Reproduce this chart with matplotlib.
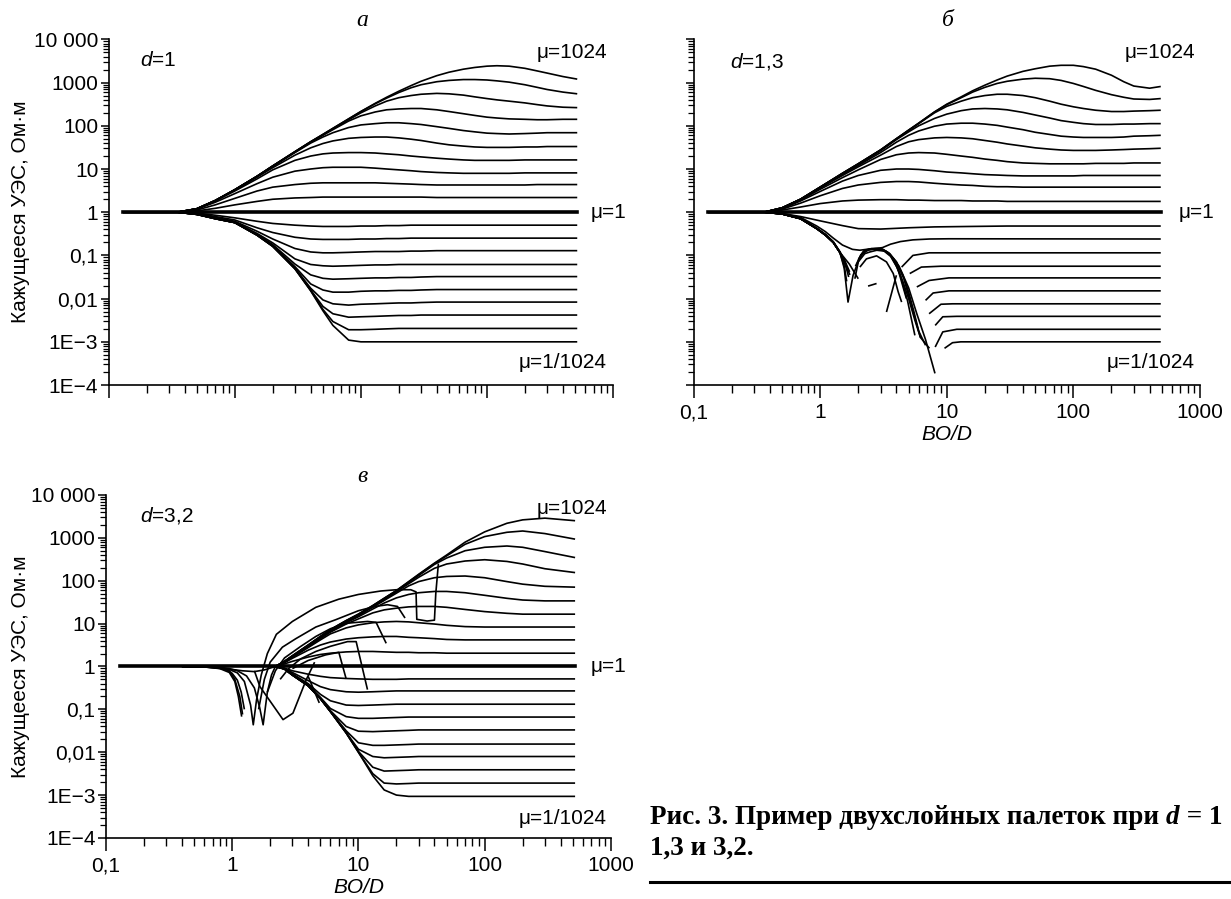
import numpy as np
import matplotlib
matplotlib.use('Agg')
import matplotlib.pyplot as plt
from matplotlib import rcParams
from matplotlib.ticker import FixedLocator, FixedFormatter, LogLocator, NullFormatter

rcParams['font.family'] = 'Liberation Sans'
rcParams['mathtext.fontset'] = 'custom'
rcParams['mathtext.rm'] = 'Liberation Sans'
rcParams['mathtext.it'] = 'Liberation Sans:italic'

nan = np.nan

# ---- data: apparent resistivity curves, values given as lg(rho) ----
x_ticks = [0.1, 1, 10, 100, 1000]
x_tick_labels = ['0,1', '1', '10', '100', '1000']
y_ticks = [1e-4, 1e-3, 1e-2, 1e-1, 1, 10, 100, 1000, 10000]
y_tick_labels = ['1E\u22124', '1E\u22123', '0,01', '0,1', '1', '10', '100', '1000', '10 000']

# panel a, d = 1
a_x = [0.13, 0.35, 0.5, 0.7, 1, 1.5, 2, 3, 4, 5, 6, 8, 10, 13, 16, 20, 25, 30, 40, 50,
       65, 80, 100, 120, 150, 200, 250, 300, 400, 520]
a_up = [  # mu = 2 ... 1024
    [0, 0, 0.03, 0.09, 0.17, 0.25, 0.30, 0.33, 0.34, 0.35, 0.35, 0.35, 0.35, 0.35, 0.35, 0.35, 0.35, 0.35, 0.34, 0.34,
     0.34, 0.34, 0.34, 0.34, 0.34, 0.34, 0.34, 0.34, 0.34, 0.34],
    [0, 0, 0.05, 0.17, 0.32, 0.49, 0.58, 0.64, 0.67, 0.68, 0.68, 0.68, 0.68, 0.68, 0.67, 0.66, 0.65, 0.64, 0.63, 0.63,
     0.63, 0.63, 0.63, 0.63, 0.63, 0.63, 0.64, 0.64, 0.64, 0.64],
    [0, 0, 0.07, 0.23, 0.43, 0.66, 0.81, 0.95, 1.00, 1.03, 1.04, 1.04, 1.04, 1.02, 1.00, 0.98, 0.96, 0.94, 0.92, 0.91,
     0.90, 0.90, 0.90, 0.90, 0.90, 0.91, 0.91, 0.91, 0.91, 0.91],
    [0, 0, 0.08, 0.26, 0.49, 0.77, 0.98, 1.20, 1.30, 1.35, 1.37, 1.38, 1.38, 1.37, 1.35, 1.33, 1.30, 1.28, 1.25, 1.23,
     1.21, 1.20, 1.20, 1.20, 1.20, 1.21, 1.21, 1.21, 1.21, 1.21],
    [0, 0, 0.08, 0.27, 0.51, 0.81, 1.03, 1.32, 1.49, 1.59, 1.65, 1.71, 1.73, 1.74, 1.74, 1.72, 1.69, 1.66, 1.60, 1.56,
     1.53, 1.51, 1.50, 1.50, 1.50, 1.51, 1.51, 1.52, 1.52, 1.52],
    [0, 0, 0.08, 0.27, 0.52, 0.83, 1.06, 1.38, 1.60, 1.74, 1.84, 1.96, 2.02, 2.05, 2.07, 2.07, 2.05, 2.03, 1.98, 1.94,
     1.89, 1.86, 1.83, 1.82, 1.81, 1.82, 1.83, 1.84, 1.84, 1.84],
    [0, 0, 0.08, 0.27, 0.52, 0.83, 1.07, 1.39, 1.62, 1.78, 1.91, 2.11, 2.23, 2.32, 2.37, 2.39, 2.40, 2.40, 2.37, 2.33,
     2.28, 2.24, 2.20, 2.18, 2.16, 2.15, 2.14, 2.14, 2.15, 2.15],
    [0, 0, 0.08, 0.27, 0.52, 0.83, 1.07, 1.40, 1.63, 1.79, 1.93, 2.14, 2.30, 2.46, 2.57, 2.65, 2.70, 2.73, 2.75, 2.74,
     2.71, 2.67, 2.63, 2.60, 2.57, 2.53, 2.49, 2.46, 2.43, 2.42],
    [0, 0, 0.08, 0.27, 0.52, 0.83, 1.07, 1.40, 1.63, 1.80, 1.94, 2.16, 2.33, 2.51, 2.64, 2.77, 2.88, 2.95, 3.02, 3.05,
     3.07, 3.07, 3.06, 3.04, 3.01, 2.95, 2.89, 2.84, 2.78, 2.74],
    [0, 0, 0.08, 0.27, 0.52, 0.83, 1.07, 1.40, 1.63, 1.80, 1.94, 2.16, 2.33, 2.52, 2.66, 2.80, 2.93, 3.03, 3.16, 3.24,
     3.31, 3.35, 3.38, 3.39, 3.38, 3.33, 3.27, 3.22, 3.14, 3.08],
]
a_low = [  # mu = 1/2 ... 1/1024
    [0, 0, -0.02, -0.07, -0.13, -0.21, -0.26, -0.30, -0.32, -0.33, -0.33, -0.33, -0.32, -0.32, -0.31, -0.31, -0.30, -0.30,
     -0.30, -0.30, -0.30, -0.30, -0.30, -0.30, -0.30, -0.30, -0.30, -0.30, -0.30, -0.30],
    [0, 0, -0.03, -0.10, -0.18, -0.36, -0.47, -0.58, -0.62, -0.63, -0.63, -0.63, -0.62, -0.62, -0.61, -0.61, -0.60, -0.60,
     -0.60, -0.60, -0.60, -0.60, -0.60, -0.60, -0.60, -0.60, -0.60, -0.60, -0.60, -0.60],
    [0, 0, -0.04, -0.12, -0.21, -0.44, -0.62, -0.84, -0.92, -0.94, -0.94, -0.93, -0.92, -0.91, -0.91, -0.91, -0.90, -0.90,
     -0.89, -0.89, -0.89, -0.89, -0.89, -0.89, -0.89, -0.89, -0.89, -0.89, -0.89, -0.89],
    [0, 0, -0.05, -0.13, -0.23, -0.49, -0.71, -1.08, -1.21, -1.24, -1.25, -1.24, -1.23, -1.22, -1.22, -1.21, -1.21, -1.21,
     -1.21, -1.21, -1.21, -1.21, -1.21, -1.21, -1.21, -1.21, -1.21, -1.21, -1.21, -1.21],
    [0, 0, -0.05, -0.14, -0.24, -0.51, -0.75, -1.20, -1.45, -1.53, -1.55, -1.54, -1.53, -1.52, -1.52, -1.51, -1.51, -1.50,
     -1.49, -1.49, -1.49, -1.49, -1.49, -1.49, -1.49, -1.49, -1.49, -1.49, -1.49, -1.49],
    [0, 0, -0.05, -0.15, -0.24, -0.52, -0.77, -1.26, -1.66, -1.80, -1.85, -1.85, -1.83, -1.82, -1.82, -1.81, -1.81, -1.80,
     -1.79, -1.79, -1.79, -1.79, -1.79, -1.79, -1.79, -1.79, -1.79, -1.79, -1.79, -1.79],
    [0, 0, -0.05, -0.15, -0.24, -0.53, -0.78, -1.29, -1.76, -2.03, -2.12, -2.15, -2.13, -2.12, -2.11, -2.10, -2.10, -2.09,
     -2.08, -2.08, -2.08, -2.08, -2.08, -2.08, -2.08, -2.08, -2.08, -2.08, -2.08, -2.08],
    [0, 0, -0.05, -0.15, -0.24, -0.53, -0.79, -1.30, -1.80, -2.18, -2.35, -2.43, -2.42, -2.41, -2.40, -2.39, -2.39, -2.38,
     -2.38, -2.38, -2.38, -2.38, -2.38, -2.38, -2.38, -2.38, -2.38, -2.38, -2.38, -2.38],
    [0, 0, -0.05, -0.15, -0.24, -0.53, -0.79, -1.31, -1.81, -2.25, -2.53, -2.72, -2.72, -2.71, -2.70, -2.69, -2.69, -2.69,
     -2.69, -2.69, -2.69, -2.69, -2.69, -2.69, -2.69, -2.69, -2.69, -2.69, -2.69, -2.69],
    [0, 0, -0.05, -0.15, -0.24, -0.53, -0.79, -1.31, -1.82, -2.28, -2.62, -2.96, -3.00, -3.00, -3.00, -3.00, -3.00, -3.00,
     -3.00, -3.00, -3.00, -3.00, -3.00, -3.00, -3.00, -3.00, -3.00, -3.00, -3.00, -3.00],
]

# panel b, d = 1,3
b_x = [0.13, 0.36, 0.5, 0.7, 1, 1.5, 2, 3, 4, 5, 6, 8, 10, 13, 16, 20, 25, 30, 40, 50,
       65, 80, 100, 120, 150, 200, 250, 300, 400, 490]
b_up = [
    [0, 0, 0.05, 0.12, 0.20, 0.26, 0.28, 0.29, 0.29, 0.28, 0.28, 0.27, 0.27, 0.27, 0.26, 0.26, 0.26, 0.25, 0.25, 0.25,
     0.25, 0.25, 0.25, 0.25, 0.25, 0.25, 0.25, 0.25, 0.25, 0.25],
    [0, 0, 0.07, 0.21, 0.38, 0.55, 0.63, 0.69, 0.71, 0.71, 0.70, 0.67, 0.65, 0.63, 0.62, 0.60, 0.59, 0.59, 0.58, 0.58,
     0.58, 0.58, 0.58, 0.58, 0.58, 0.58, 0.58, 0.58, 0.58, 0.58],
    [0, 0, 0.08, 0.26, 0.48, 0.72, 0.85, 0.97, 1.00, 1.00, 0.99, 0.96, 0.93, 0.91, 0.89, 0.87, 0.86, 0.85, 0.84, 0.84,
     0.84, 0.84, 0.84, 0.85, 0.85, 0.85, 0.85, 0.85, 0.85, 0.85],
    [0, 0, 0.09, 0.28, 0.53, 0.80, 0.98, 1.22, 1.33, 1.37, 1.38, 1.37, 1.34, 1.30, 1.27, 1.23, 1.20, 1.17, 1.14, 1.13,
     1.12, 1.12, 1.12, 1.12, 1.13, 1.13, 1.13, 1.14, 1.14, 1.14],
    [0, 0, 0.10, 0.29, 0.56, 0.85, 1.05, 1.32, 1.52, 1.63, 1.68, 1.72, 1.73, 1.72, 1.70, 1.66, 1.62, 1.58, 1.53, 1.49,
     1.46, 1.44, 1.43, 1.43, 1.43, 1.44, 1.45, 1.46, 1.47, 1.48],
    [0, 0, 0.10, 0.30, 0.57, 0.88, 1.08, 1.38, 1.62, 1.78, 1.88, 1.99, 2.04, 2.06, 2.06, 2.04, 2.01, 1.97, 1.91, 1.85,
     1.80, 1.76, 1.74, 1.73, 1.73, 1.73, 1.74, 1.76, 1.77, 1.78],
    [0, 0, 0.10, 0.30, 0.58, 0.89, 1.10, 1.42, 1.68, 1.86, 2.00, 2.17, 2.27, 2.35, 2.39, 2.40, 2.39, 2.37, 2.31, 2.25,
     2.18, 2.12, 2.08, 2.05, 2.03, 2.03, 2.04, 2.04, 2.05, 2.05],
    [0, 0, 0.10, 0.30, 0.58, 0.90, 1.12, 1.44, 1.70, 1.89, 2.05, 2.30, 2.45, 2.57, 2.65, 2.70, 2.73, 2.73, 2.70, 2.65,
     2.57, 2.50, 2.44, 2.40, 2.36, 2.33, 2.33, 2.34, 2.35, 2.36],
    [0, 0, 0.10, 0.30, 0.58, 0.90, 1.12, 1.44, 1.70, 1.90, 2.06, 2.32, 2.49, 2.65, 2.78, 2.89, 2.98, 3.03, 3.08, 3.10,
     3.09, 3.05, 2.98, 2.91, 2.82, 2.72, 2.66, 2.62, 2.61, 2.63],
    [0, 0, 0.10, 0.30, 0.58, 0.90, 1.12, 1.44, 1.70, 1.90, 2.06, 2.32, 2.50, 2.67, 2.81, 2.94, 3.06, 3.15, 3.26, 3.32,
     3.38, 3.40, 3.40, 3.37, 3.31, 3.17, 3.02, 2.92, 2.87, 2.91],
]
b_low_x = [
    [0.13, 0.36, 0.5, 0.7, 1, 1.5, 2, 3, 5, 8, 15, 30, 490],
    [0.13, 0.36, 0.5, 0.7, 0.94, 1.1, 1.27, 1.5, 1.8, 2.06, 2.32, 2.7, 3.1, 3.6, 4.3, 5.4, 7.3, 10.4, 490],
    [0.13, 0.36, 0.5, 0.7, 0.94, 1.1, 1.27, 1.43, 1.55, 1.66, 1.82, 2.06, 2.32, 2.7, 3.1, 3.55, 4.0, 4.5, 5.0, 5.5, 6.0, 6.8, nan, 4.4, 5.4, 7.25, 490],
    [0.13, 0.36, 0.5, 0.7, 0.94, 1.1, 1.27, 1.43, 1.58, 1.71, nan, 1.88, 2.0, 2.25, 2.47, 2.8, 3.2, 3.6, 4.0, 4.5, 5.0, 5.6, 6.2, nan, 5.1, 6.3, 9.0, 490],
    [0.13, 0.36, 0.5, 0.7, 0.94, 1.1, 1.27, 1.45, 1.7, 2.0, nan, 2.06, 2.32, 2.79, 3.34, 3.78, 4.13, 4.4, nan, 5.8, 7.25, 10.4, 490],
    [0.13, 0.36, 0.5, 0.7, 0.94, 1.1, 1.27, 1.43, 1.55, 1.62, nan, 2.39, 2.79, nan, 3.34, 4.0, nan, 6.8, 7.8, 10.4, 490],
    [0.13, 0.36, 0.5, 0.7, 0.94, 1.1, 1.27, 1.43, 1.6, 1.72, nan, 1.9, 2.1, 2.4, 2.75, 3.2, 3.6, 4.1, 4.8, nan, 7.25, 9.0, 11.1, 490],
    [0.13, 0.36, 0.5, 0.7, 0.94, 1.1, 1.27, 1.43, 1.58, 1.68, nan, 1.95, 2.15, 2.45, 2.8, 3.3, 3.8, 4.3, 4.9, 5.6, nan, 8.1, 9.3, 12, 490],
    [0.13, 0.36, 0.5, 0.7, 0.94, 1.1, 1.27, 1.43, 1.55, 1.65, nan, 2.0, 2.2, 2.5, 2.9, 3.4, 4.0, 4.6, 5.3, 6.2, 7.3, nan, 8.1, 9.3, 12, 490],
    [0.13, 0.36, 0.5, 0.7, 0.94, 1.1, 1.27, 1.43, 1.52, 1.6, nan, 2.05, 2.25, 2.55, 3.0, 3.5, 4.2, 5.0, 5.8, 6.8, 8.07, nan, 9.6, 11.1, 12.9, 490],
]
b_low = [
    [0, 0, -0.03, -0.10, -0.20, -0.31, -0.38, -0.39, -0.36, -0.34, -0.33, -0.32, -0.32],
    [0, 0, -0.03, -0.12, -0.32, -0.45, -0.60, -0.76, -0.86, -0.88, -0.86, -0.84, -0.82, -0.74, -0.68, -0.64, -0.62, -0.615, -0.62],
    [0, 0, -0.04, -0.15, -0.38, -0.52, -0.69, -0.92, -1.30, -2.08, -1.46, -1.04, -0.88, -0.845, -0.85, -0.96, -1.15, -1.45, -1.85, -2.30, -2.75, -3.08, nan, -1.27, -1.00, -0.94, -0.94],
    [0, 0, -0.04, -0.15, -0.37, -0.51, -0.68, -0.91, -1.15, -1.38, nan, -1.54, -1.15, -0.96, -0.92, -0.88, -0.90, -1.02, -1.25, -1.60, -2.00, -2.50, -2.90, nan, -1.42, -1.27, -1.25, -1.25],
    [0, 0, -0.04, -0.15, -0.38, -0.52, -0.70, -0.95, -1.20, -1.54, nan, -1.27, -1.08, -1.01, -1.15, -1.42, -1.84, -2.08, nan, -1.73, -1.58, -1.52, -1.52],
    [0, 0, -0.04, -0.15, -0.38, -0.53, -0.70, -0.93, -1.25, -1.60, nan, -1.71, -1.65, nan, -2.31, -1.46, nan, -2.04, -1.87, -1.82, -1.82],
    [0, 0, -0.04, -0.15, -0.38, -0.53, -0.70, -0.93, -1.25, -1.45, nan, -1.25, -0.98, -0.87, -0.85, -0.88, -1.00, -1.30, -2.00, nan, -2.35, -2.13, -2.12, -2.12],
    [0, 0, -0.04, -0.15, -0.38, -0.53, -0.70, -0.93, -1.20, -1.50, nan, -1.20, -0.95, -0.86, -0.85, -0.90, -1.08, -1.45, -2.05, -2.85, nan, -2.62, -2.42, -2.41, -2.41],
    [0, 0, -0.04, -0.15, -0.38, -0.53, -0.70, -0.93, -1.10, -1.35, nan, -1.10, -0.90, -0.85, -0.84, -0.92, -1.15, -1.55, -2.20, -2.90, -3.15, nan, -3.12, -2.77, -2.71, -2.71],
    [0, 0, -0.04, -0.15, -0.38, -0.53, -0.70, -0.93, -1.05, -1.25, nan, -1.05, -0.88, -0.84, -0.85, -0.95, -1.25, -1.75, -2.35, -2.95, -3.73, nan, -3.15, -3.02, -3.00, -3.00],
]

# panel c, d = 3,2
c_x = [2.2, 2.6, 3, 4, 5, 6, 8, 10, 13, 16, 20, 25, 30, 40, 50, 70, 100, 150, 200, 300, 520]
c_up = [
    [0.0, 0.06, 0.12, 0.22, 0.28, 0.31, 0.34, 0.35, 0.35, 0.34, 0.33, 0.33, 0.32, 0.32, 0.31, 0.31, 0.31, 0.31, 0.31, 0.31, 0.31],
    [0.0, 0.09, 0.19, 0.38, 0.50, 0.57, 0.64, 0.67, 0.69, 0.70, 0.70, 0.68, 0.67, 0.65, 0.63, 0.62, 0.62, 0.62, 0.62, 0.62, 0.62],
    [0.0, 0.10, 0.21, 0.44, 0.62, 0.76, 0.90, 0.97, 1.02, 1.04, 1.05, 1.04, 1.02, 0.99, 0.96, 0.93, 0.92, 0.92, 0.92, 0.92, 0.92],
    [0.0, 0.10, 0.22, 0.46, 0.65, 0.80, 0.99, 1.11, 1.25, 1.32, 1.36, 1.39, 1.40, 1.40, 1.38, 1.33, 1.28, 1.24, 1.22, 1.22, 1.22],
    [0.0, 0.11, 0.23, 0.47, 0.67, 0.82, 1.02, 1.16, 1.34, 1.48, 1.60, 1.68, 1.72, 1.75, 1.75, 1.72, 1.66, 1.59, 1.55, 1.53, 1.53],
    [0.0, 0.11, 0.23, 0.48, 0.68, 0.84, 1.04, 1.19, 1.38, 1.54, 1.71, 1.88, 1.98, 2.07, 2.10, 2.11, 2.07, 1.98, 1.92, 1.87, 1.85],
    [0.0, 0.11, 0.24, 0.49, 0.69, 0.85, 1.05, 1.20, 1.40, 1.56, 1.74, 1.93, 2.08, 2.29, 2.39, 2.46, 2.49, 2.45, 2.39, 2.28, 2.19],
    [0.0, 0.12, 0.24, 0.49, 0.69, 0.85, 1.06, 1.21, 1.41, 1.58, 1.76, 1.96, 2.12, 2.38, 2.53, 2.70, 2.78, 2.81, 2.78, 2.68, 2.54],
    [0.0, 0.12, 0.25, 0.50, 0.70, 0.86, 1.07, 1.22, 1.42, 1.59, 1.77, 1.97, 2.14, 2.40, 2.58, 2.85, 3.03, 3.13, 3.16, 3.10, 2.97],
    [0.0, 0.12, 0.25, 0.50, 0.70, 0.86, 1.07, 1.22, 1.42, 1.59, 1.77, 1.98, 2.15, 2.41, 2.60, 2.90, 3.14, 3.34, 3.42, 3.46, 3.40],
]
c_low = [
    [0.0, -0.04, -0.10, -0.18, -0.23, -0.26, -0.28, -0.29, -0.30, -0.30, -0.30, -0.29, -0.29, -0.29, -0.29, -0.29, -0.29, -0.29, -0.29, -0.29, -0.29],
    [0.0, -0.05, -0.14, -0.33, -0.47, -0.54, -0.59, -0.60, -0.59, -0.58, -0.57, -0.57, -0.57, -0.57, -0.57, -0.57, -0.57, -0.57, -0.57, -0.57, -0.57],
    [0.0, -0.05, -0.17, -0.40, -0.65, -0.80, -0.90, -0.91, -0.90, -0.89, -0.88, -0.88, -0.88, -0.88, -0.88, -0.88, -0.88, -0.88, -0.88, -0.88, -0.88],
    [0.0, -0.05, -0.18, -0.43, -0.72, -0.98, -1.17, -1.21, -1.21, -1.20, -1.19, -1.18, -1.18, -1.18, -1.18, -1.18, -1.18, -1.18, -1.18, -1.18, -1.18],
    [0.0, -0.05, -0.19, -0.44, -0.74, -1.03, -1.40, -1.51, -1.52, -1.51, -1.50, -1.49, -1.48, -1.48, -1.48, -1.48, -1.48, -1.48, -1.48, -1.48, -1.48],
    [0.0, -0.06, -0.20, -0.45, -0.75, -1.05, -1.50, -1.78, -1.84, -1.84, -1.83, -1.82, -1.81, -1.81, -1.81, -1.81, -1.81, -1.81, -1.81, -1.81, -1.81],
    [0.0, -0.06, -0.20, -0.45, -0.75, -1.05, -1.54, -1.93, -2.10, -2.13, -2.12, -2.11, -2.10, -2.10, -2.10, -2.10, -2.10, -2.10, -2.10, -2.10, -2.10],
    [0.0, -0.06, -0.20, -0.45, -0.75, -1.05, -1.55, -1.98, -2.35, -2.44, -2.43, -2.42, -2.41, -2.41, -2.41, -2.41, -2.41, -2.41, -2.41, -2.41, -2.41],
    [0.0, -0.06, -0.20, -0.45, -0.75, -1.05, -1.55, -2.00, -2.50, -2.72, -2.74, -2.73, -2.72, -2.72, -2.72, -2.72, -2.72, -2.72, -2.72, -2.72, -2.72],
    [0.0, -0.06, -0.20, -0.45, -0.75, -1.05, -1.55, -2.00, -2.55, -2.88, -3.00, -3.03, -3.03, -3.03, -3.03, -3.03, -3.03, -3.03, -3.03, -3.03, -3.03],
]
# broken pieces of the d = 3,2 curves near the left
c_extra_x = [
    [0.4, 0.6, 0.8, 0.95, 1.1, 1.3, 1.5, 1.65, 1.76, 1.9, 2.05, 2.2],
    [0.4, 0.7, 0.95, 1.2, 1.5, 1.8, 2.2],
    [0.4, 0.6, 0.8, 0.95, 1.05, 1.15, 1.21],
    [0.4, 0.6, 0.8, 0.95, 1.05, 1.12, 1.19],
    [0.4, 0.7, 0.9, 1.0, 1.1, 1.18, 1.25],
    [0.4, 0.6, 0.8, 0.95, 1.1, 1.25, 1.4, 1.47, 1.56, 1.7, 1.9, 2.24, 3.0, 4.6, 7, 10, 15, 20, 26, 28.6, 29, 35, 40, 41, 43],
    [1.62, 1.8, 2.0, 2.5, 3.2, 4.6, 6.6, 10, 13.5, 17, 20.4, 23.4],
    [1.9, 2.2, 2.6, 3.5, 4.6, 6.0, 8.2, 11.8, 13.8, 16.6],
    [2.4, 2.8, 3.5, 4.6, 6.0, 8.2, 9.6, 11.8],
    [3.0, 4.0, 5.5, 7.0, 8.0],
    [1.5, 1.66, 2.53, 3.03, 3.86, 4.5],
    [4.0, 4.9],
]
c_extra = [
    [0, -0.01, -0.02, -0.05, -0.10, -0.22, -0.50, -0.95, -1.36, -0.60, -0.20, 0.0],
    [0, -0.02, -0.06, -0.10, -0.12, -0.08, 0.0],
    [0, -0.01, -0.04, -0.10, -0.30, -0.70, -1.12],
    [0, -0.01, -0.05, -0.14, -0.35, -0.70, -1.17],
    [0, -0.02, -0.07, -0.16, -0.32, -0.60, -1.00],
    [0, -0.01, -0.03, -0.07, -0.15, -0.35, -0.90, -1.36, -0.78, -0.20, 0.30, 0.75, 1.05, 1.38, 1.57, 1.68, 1.76, 1.79, 1.79, 1.74, 1.10, 1.06, 1.08, 1.70, 2.40],
    [-1.0, -0.3, 0.1, 0.45, 0.65, 0.92, 1.09, 1.30, 1.40, 1.44, 1.40, 1.13],
    [-0.6, -0.1, 0.2, 0.47, 0.70, 0.88, 1.01, 1.05, 1.03, 0.54],
    [-0.3, -0.05, 0.18, 0.35, 0.47, 0.58, 0.58, -0.54],
    [-0.05, 0.14, 0.27, 0.33, -0.29],
    [-0.1, -0.47, -1.24, -1.09, -0.31, 0.10],
    [-0.23, -0.85],
]

W, H = 1231, 899
FS = 15


def ftext(fig, x, y, s, **kw):
    fig.text(x / W, 1 - y / H, s, **kw)


def setup_axis(ax, xlabels=True, ylabels=True):
    ax.set_xscale('log')
    ax.set_yscale('log')
    ax.set_xlim(0.1, 1000)
    ax.set_ylim(1e-4, 1e4)
    ax.spines['top'].set_visible(False)
    ax.spines['right'].set_visible(False)
    ax.spines['left'].set_linewidth(1.2)
    ax.spines['bottom'].set_linewidth(1.2)
    ax.xaxis.set_major_locator(FixedLocator(x_ticks))
    ax.xaxis.set_minor_locator(LogLocator(base=10, subs=np.arange(2, 10), numticks=50))
    ax.yaxis.set_major_locator(FixedLocator(y_ticks))
    ax.yaxis.set_minor_locator(LogLocator(base=10, subs=np.arange(2, 10), numticks=50))
    ax.xaxis.set_minor_formatter(NullFormatter())
    ax.yaxis.set_minor_formatter(NullFormatter())
    if xlabels:
        ax.xaxis.set_major_formatter(FixedFormatter(x_tick_labels))
    else:
        ax.xaxis.set_major_formatter(NullFormatter())
    if ylabels:
        ax.yaxis.set_major_formatter(FixedFormatter(y_tick_labels))
    else:
        ax.yaxis.set_major_formatter(NullFormatter())
    ax.tick_params(axis='x', which='major', direction='out', length=9, width=1.1, labelsize=FS, pad=4)
    ax.tick_params(axis='x', which='minor', direction='out', length=5.5, width=1.0)
    ax.tick_params(axis='y', which='major', direction='out', length=5.5, width=1.1, labelsize=FS, pad=2)
    ax.tick_params(axis='y', which='minor', direction='out', length=4, width=0.9)
    if xlabels:
        ax.set_xlabel('BO/D', fontsize=FS, fontstyle='italic', labelpad=2)


def draw(ax, x, curves, lw=1.2):
    for lg in curves:
        ax.plot(x, np.power(10.0, np.array(lg, dtype=float)), color='black', lw=lw,
                solid_joinstyle='round', solid_capstyle='butt')


def draw_pieces(ax, xs, curves, lw=1.2):
    for x, lg in zip(xs, curves):
        ax.plot(x, np.power(10.0, np.array(lg, dtype=float)), color='black', lw=lw,
                solid_joinstyle='round', solid_capstyle='butt')


fig = plt.figure(figsize=(W / 100, H / 100), dpi=100)

ax_a = fig.add_axes([0.0883, 0.5717, 0.4097, 0.3845])
ax_b = fig.add_axes([0.5634, 0.5717, 0.4114, 0.3845])
ax_c = fig.add_axes([0.0860, 0.0679, 0.4103, 0.3815])

setup_axis(ax_a, xlabels=False, ylabels=True)
setup_axis(ax_b, xlabels=True, ylabels=False)
setup_axis(ax_c, xlabels=True, ylabels=True)

draw(ax_a, a_x, a_up)
draw(ax_a, a_x, a_low)
ax_a.plot([a_x[0], a_x[-1]], [1, 1], color='black', lw=2.6)

draw(ax_b, b_x, b_up)
draw_pieces(ax_b, b_low_x, b_low)
ax_b.plot([b_x[0], b_x[-1]], [1, 1], color='black', lw=2.6)

draw(ax_c, c_x, c_up)
draw(ax_c, c_x, c_low)
draw_pieces(ax_c, c_extra_x, c_extra)
ax_c.plot([0.13, c_x[-1]], [1, 1], color='black', lw=2.6)

lab = dict(fontsize=FS, va='center')
for (x0, y0, dtxt, x1, y1, x2, y2) in [
        (140, 61, '$d$=1', 607, 212, 607, 363),
        (730, 62, '$d$=1,3', 1195, 212, 1195, 363),
        (140, 515, '$d$=3,2', 607, 667, 607, 818)]:
    ftext(fig, x0, y0, dtxt, ha='left', **lab)
    ftext(fig, x1, y1 - 159, '\u03bc=1024', ha='right', **lab)
    ftext(fig, x1 - 16, y1, '\u03bc=1', ha='left', **lab)
    ftext(fig, x2, y2, '\u03bc=1/1024', ha='right', **lab)

ttl = dict(fontsize=17, fontstyle='italic', family='Liberation Serif', ha='center', va='center')
ftext(fig, 362, 20, '\u0430', **ttl)
ftext(fig, 948, 20, '\u0431', **ttl)
ftext(fig, 362, 476, '\u0432', **ttl)

ftext(fig, 21, 212, 'Кажущееся УЭС, Ом·м', rotation=90, ha='center', va='center', fontsize=FS)
ftext(fig, 21, 667, 'Кажущееся УЭС, Ом·м', rotation=90, ha='center', va='center', fontsize=FS)

cap = dict(fontsize=19.5, family='Liberation Serif', fontweight='bold', va='center', ha='left')
fig.canvas.draw()
r = fig.canvas.get_renderer()
t1 = fig.text(650 / W, 1 - 818 / H, 'Рис. 3. Пример двухслойных палеток при ', **cap)
w1 = t1.get_window_extent(renderer=r).width
t2 = fig.text((650 + w1) / W, 1 - 818 / H, 'd', fontstyle='italic', **cap)
w2 = t2.get_window_extent(renderer=r).width
fig.text((650 + w1 + w2) / W, 1 - 818 / H, ' = 1', **cap)
ftext(fig, 650, 848, '1,3 и 3,2.', **cap)
fig.add_artist(plt.Line2D([650 / W, 1.0], [1 - 882 / H, 1 - 882 / H], color='black', lw=2.2,
                          transform=fig.transFigure))

fig.savefig('out.png', dpi=100)
